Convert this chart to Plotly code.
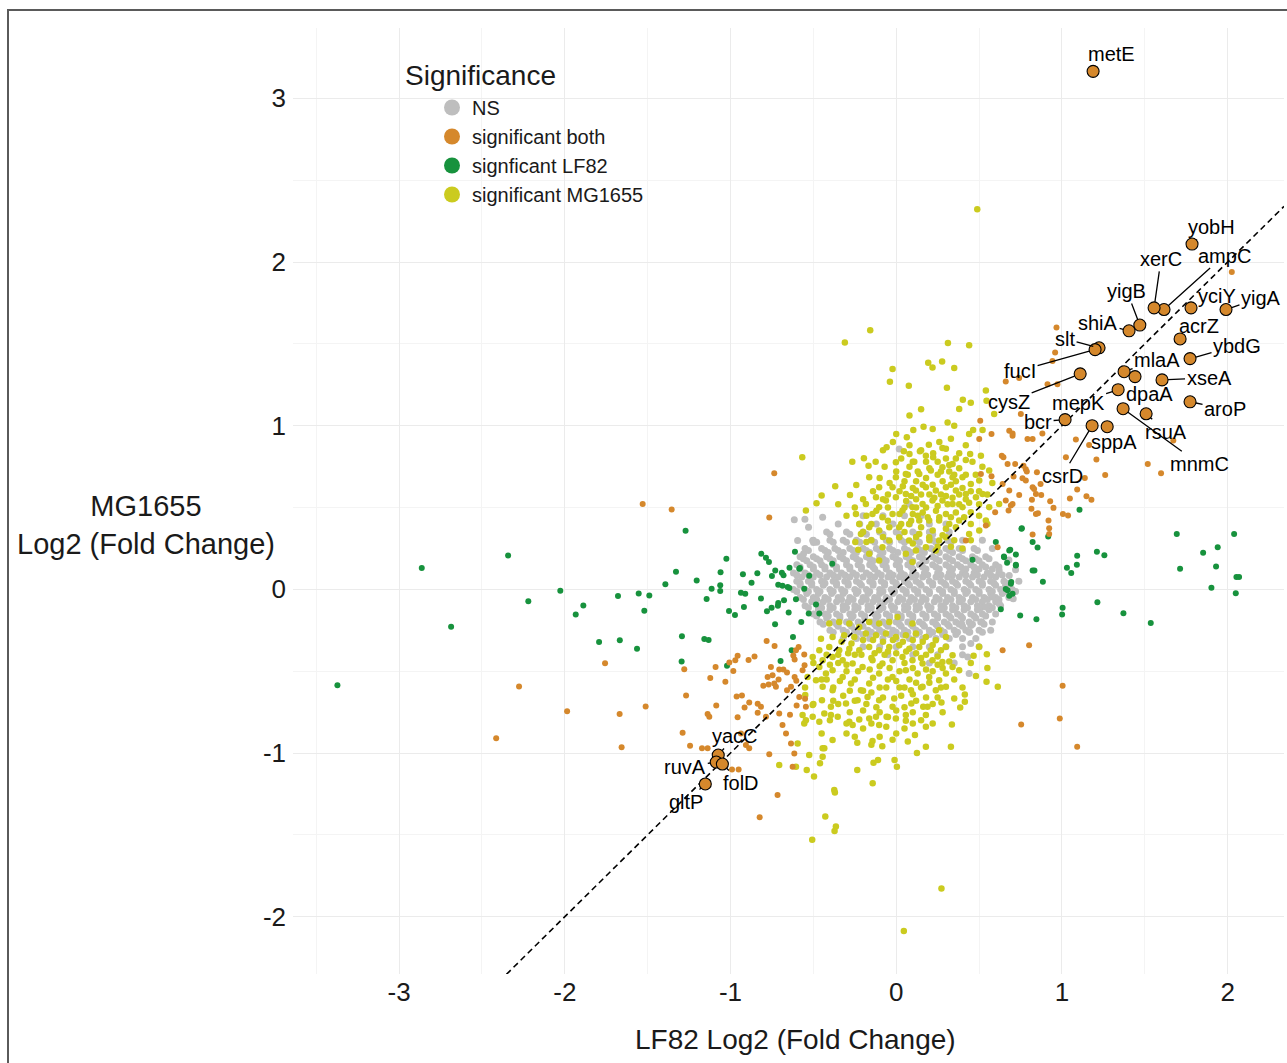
import plotly.graph_objects as go

FONT = "Liberation Sans, Arial, Helvetica, sans-serif"
C_NS = "#BEBEBE"
C_BOTH = "#D5882C"
C_LF = "#17923D"
C_MG = "#CBCB1F"

legend_names = ["NS", "significant both", "signficant LF82", "significant MG1655"]
x_tick_vals = [-3, -2, -1, 0, 1, 2]
x_tick_text = ["-3", "-2", "-1", "0", "1", "2"]
y_tick_vals = [-2, -1, 0, 1, 2, 3]
y_tick_text = ["-2", "-1", "0", "1", "2", "3"]

# ---------------- data (log2 fold changes) ----------------
# NS cloud, estimated row by row: (MG1655 value, [LF82 values])
ns_rows = [
    (0.45, [-0.2, -0.08, 0.05, 0.15]),
    (0.40, [-0.35, -0.22, -0.12, -0.02, 0.08, 0.2, 0.3]),
    (0.35, [-0.42, -0.3, -0.2, -0.1, 0.0, 0.1, 0.2, 0.32]),
    (0.3375, [-0.4, -0.28, -0.18, -0.08, 0.02, 0.12, 0.22]),
    (0.30, [-0.5, -0.4, -0.32, -0.24, -0.15, -0.06, 0.03, 0.12, 0.22, 0.31, 0.4]),
    (0.2875, [-0.48, -0.38, -0.3, -0.22, -0.13, -0.04, 0.05, 0.14, 0.24, 0.33]),
    (0.25, [-0.55, -0.45, -0.37, -0.28, -0.2, -0.12, -0.04, 0.05, 0.13, 0.21, 0.3, 0.38, 0.47]),
    (0.2375, [-0.53, -0.43, -0.35, -0.26, -0.18, -0.1, -0.02, 0.07, 0.15, 0.23, 0.32, 0.4, 0.49]),
    (0.225, [-0.41, -0.32, -0.24, -0.16, -0.08, 0.01, 0.09, 0.17, 0.26, 0.34]),
    (0.20, [-0.58, -0.5, -0.42, -0.34, -0.26, -0.18, -0.1, -0.02, 0.06, 0.14, 0.22, 0.3, 0.38, 0.46, 0.54]),
    (0.1875, [-0.56, -0.48, -0.4, -0.32, -0.24, -0.16, -0.08, 0.0, 0.08, 0.16, 0.24, 0.32, 0.4, 0.48, 0.56]),
    (0.175, [-0.54, -0.46, -0.38, -0.3, -0.22, -0.14, -0.06, 0.02, 0.1, 0.18, 0.26, 0.34, 0.42, 0.5]),
    (0.15, [-0.6, -0.52, -0.45, -0.38, -0.3, -0.23, -0.16, -0.08, 0.0, 0.07, 0.14, 0.22, 0.3, 0.37, 0.45, 0.52, 0.6]),
    (0.1375, [-0.58, -0.5, -0.43, -0.36, -0.28, -0.21, -0.14, -0.06, 0.02, 0.09, 0.16, 0.24, 0.32, 0.39, 0.47, 0.54, 0.62]),
    (0.125, [-0.58, -0.5, -0.43, -0.36, -0.28, -0.21, -0.13, -0.06, 0.02, 0.1, 0.18, 0.26, 0.34, 0.42, 0.5, 0.58]),
    (0.10, [-0.62, -0.55, -0.48, -0.4, -0.33, -0.26, -0.18, -0.11, -0.04, 0.03, 0.1, 0.17, 0.25, 0.32, 0.4, 0.47, 0.55, 0.62]),
    (0.0875, [-0.6, -0.53, -0.46, -0.38, -0.31, -0.24, -0.16, -0.09, -0.02, 0.05, 0.12, 0.19, 0.27, 0.34, 0.42, 0.49, 0.57, 0.64]),
    (0.075, [-0.57, -0.5, -0.42, -0.35, -0.28, -0.2, -0.13, -0.05, 0.02, 0.09, 0.16, 0.24, 0.31, 0.38, 0.46, 0.53, 0.6]),
    (0.05, [-0.6, -0.53, -0.45, -0.38, -0.31, -0.24, -0.16, -0.09, -0.02, 0.05, 0.12, 0.2, 0.27, 0.34, 0.42, 0.5, 0.57, 0.65]),
    (0.0375, [-0.58, -0.51, -0.43, -0.36, -0.29, -0.22, -0.14, -0.07, 0.0, 0.07, 0.14, 0.22, 0.29, 0.36, 0.44, 0.52, 0.59, 0.67]),
    (0.025, [-0.58, -0.51, -0.44, -0.36, -0.29, -0.21, -0.14, -0.07, 0.0, 0.08, 0.15, 0.22, 0.3, 0.37, 0.45, 0.52, 0.6, 0.66]),
    (0.0, [-0.62, -0.55, -0.48, -0.4, -0.33, -0.25, -0.18, -0.1, -0.03, 0.04, 0.11, 0.18, 0.26, 0.33, 0.41, 0.48, 0.56, 0.63, 0.7]),
    (-0.0125, [-0.6, -0.53, -0.46, -0.38, -0.31, -0.23, -0.16, -0.08, -0.01, 0.06, 0.13, 0.2, 0.28, 0.35, 0.43, 0.5, 0.58, 0.65, 0.72]),
    (-0.025, [-0.54, -0.47, -0.39, -0.32, -0.24, -0.17, -0.1, -0.02, 0.06, 0.13, 0.2, 0.28, 0.35, 0.42, 0.5, 0.57, 0.64]),
    (-0.05, [-0.58, -0.5, -0.43, -0.35, -0.28, -0.2, -0.13, -0.06, 0.02, 0.09, 0.16, 0.24, 0.31, 0.38, 0.46, 0.53, 0.6, 0.68]),
    (-0.0625, [-0.56, -0.48, -0.41, -0.33, -0.26, -0.18, -0.11, -0.04, 0.04, 0.11, 0.18, 0.26, 0.33, 0.4, 0.48, 0.55, 0.62]),
    (-0.075, [-0.51, -0.44, -0.36, -0.29, -0.21, -0.14, -0.07, 0.01, 0.08, 0.15, 0.23, 0.3, 0.38, 0.45, 0.52, 0.6]),
    (-0.10, [-0.55, -0.47, -0.4, -0.32, -0.25, -0.17, -0.1, -0.03, 0.05, 0.12, 0.19, 0.27, 0.34, 0.41, 0.49, 0.56, 0.63]),
    (-0.1125, [-0.53, -0.45, -0.38, -0.3, -0.23, -0.15, -0.08, -0.01, 0.07, 0.14, 0.21, 0.29, 0.36, 0.43, 0.51, 0.58]),
    (-0.125, [-0.47, -0.4, -0.32, -0.25, -0.17, -0.1, -0.02, 0.05, 0.12, 0.2, 0.27, 0.34, 0.41, 0.49, 0.56]),
    (-0.15, [-0.5, -0.43, -0.36, -0.28, -0.21, -0.13, -0.06, 0.01, 0.08, 0.16, 0.23, 0.3, 0.37, 0.45, 0.52, 0.6]),
    (-0.1625, [-0.48, -0.41, -0.34, -0.26, -0.19, -0.11, -0.04, 0.03, 0.1, 0.18, 0.25, 0.32, 0.39, 0.47, 0.54]),
    (-0.175, [-0.42, -0.34, -0.27, -0.19, -0.12, -0.04, 0.03, 0.1, 0.18, 0.25, 0.33, 0.4, 0.48]),
    (-0.20, [-0.46, -0.38, -0.3, -0.23, -0.15, -0.08, 0.0, 0.07, 0.14, 0.22, 0.29, 0.36, 0.44, 0.51, 0.58]),
    (-0.2125, [-0.44, -0.36, -0.28, -0.21, -0.13, -0.06, 0.02, 0.09, 0.16, 0.24, 0.31, 0.38, 0.46, 0.53]),
    (-0.225, [-0.35, -0.27, -0.2, -0.12, -0.05, 0.03, 0.1, 0.17, 0.25, 0.32, 0.4]),
    (-0.25, [-0.4, -0.32, -0.25, -0.17, -0.1, -0.02, 0.05, 0.12, 0.2, 0.27, 0.35, 0.42, 0.5, 0.57]),
    (-0.2625, [-0.38, -0.3, -0.23, -0.15, -0.08, 0.0, 0.07, 0.14, 0.22, 0.29, 0.37, 0.44, 0.52]),
    (-0.275, [-0.2, -0.12, -0.04, 0.04, 0.12, 0.2, 0.28, 0.36]),
    (-0.30, [-0.32, -0.24, -0.16, -0.08, 0.0, 0.08, 0.16, 0.24, 0.32, 0.4, 0.48]),
    (-0.35, [-0.2, -0.1, 0.0, 0.1, 0.2, 0.3, 0.4, 0.5]),
    (-0.40, [-0.05, 0.1, 0.25, 0.4]),
    (-0.45, [0.2, 0.35]),
]
ns_extra = [
    (-0.615, 0.425), (-0.529, 0.38), (-0.444, 0.441), (-0.504, 0.299), (-0.595, 0.299), (0.018, 0.858),
    (0.078, 0.522), (-0.551, 0.429), (-0.499, 0.287), (-0.559, 0.218), (0.394, -0.209), (0.45, -0.22),
    (0.444, -0.26), (0.517, -0.199), (0.45, -0.331), (0.432, -0.413), (0.44, -0.514), (0.621, 0.116),
    (0.682, 0.085), (0.706, -0.057), (0.645, -0.016), (0.581, -0.047), (0.541, -0.108), (0.621, -0.087),
    (0.74, 0.05), (0.72, 0.12), (0.68, 0.18), (0.58, 0.25), (0.52, 0.3),
]

both_points = [
    (-1.53, 0.522), (-1.757, -0.451), (-2.276, -0.593), (-1.986, -0.744), (-1.669, -0.762), (-1.512, -0.715),
    (-2.414, -0.91), (-1.657, -0.965), (-0.736, 0.709), (-0.766, 0.439), (-1.355, 0.488), (-1.279, -0.488),
    (-1.268, -0.648), (-1.122, -0.541), (-1.09, -0.474), (-1.086, -0.709), (-1.138, -0.762), (-1.031, -0.565),
    (-0.983, -0.498), (-1.007, -0.447), (-0.971, -0.433), (-0.957, -0.406), (-0.891, -0.431), (-0.855, -0.41),
    (-0.963, -0.654), (-0.931, -0.648), (-0.887, -0.691), (-0.915, -0.722), (-0.836, -0.699), (-0.782, -0.315),
    (-0.734, -0.346), (-0.756, -0.474), (-0.746, -0.524), (-0.776, -0.535), (-0.706, -0.49), (-0.681, -0.49),
    (-0.659, -0.508), (-0.71, -0.551), (-0.736, -0.575), (-0.802, -0.589), (-0.77, -0.581), (-0.726, -0.595),
    (-0.659, -0.616), (-0.613, -0.535), (-0.603, -0.559), (-0.635, -0.595), (-0.605, -0.372), (-0.589, -0.352),
    (-0.621, -0.404), (-0.613, -0.429), (-0.555, -0.398), (-0.553, -0.463), (-0.565, -0.494), (-0.585, -0.657),
    (-0.601, -0.71), (-0.641, -0.766), (-0.55, -0.669), (-0.836, -0.754), (-0.957, -0.782), (-0.786, -0.778),
    (-0.716, -1.256), (-0.824, -1.392), (-1.128, -0.778), (-1.289, -0.876), (-1.244, -0.955), (-1.172, -0.971),
    (-1.138, -0.971), (-0.991, -1.1), (-0.951, -1.1), (-0.907, -0.951), (-0.887, -0.971), (-0.766, -1.008),
    (-0.937, -0.88), (-0.706, -0.758), (-0.686, -0.829), (-0.665, -0.88), (-0.635, -0.941), (-0.615, -1.002),
    (-0.625, -1.083), (-0.545, -0.717), (-0.816, -0.717),
    (0.661, 1.27), (0.742, 1.291), (0.752, 1.071), (0.507, 1.03), (0.575, 0.949), (0.501, 0.919), (0.682, 0.969),
    (0.702, 0.939), (0.792, 0.919), (0.823, 0.919), (0.637, 0.817), (0.672, 0.766), (0.718, 0.766), (0.782, 0.734),
    (0.511, 0.705), (0.575, 0.691), (0.642, 0.644), (0.682, 0.604), (0.782, 0.665), (0.823, 0.624), (0.661, 0.543),
    (0.702, 0.522), (0.597, 0.472), (0.541, 0.39), (0.843, 0.461), (0.42, 0.299), (0.612, 0.258), (0.843, 0.583),
    (1.672, 0.909), (1.518, 0.766), (1.598, 0.71), (1.261, 0.699), (1.208, 0.793), (1.164, 0.882), (1.084, 0.915),
    (1.138, 0.681), (1.092, 0.61), (1.048, 0.555), (1.148, 0.569), (1.178, 0.547), (1.006, 0.461), (1.037, 0.451),
    (0.919, 0.421), (0.923, 0.374), (0.923, 0.339), (0.823, 0.335), (0.855, 0.465), (0.816, 0.492), (0.949, 0.498),
    (0.875, 0.577), (0.819, 0.547), (0.832, 0.614), (0.871, 0.644), (0.929, 0.539), (0.742, 0.577), (0.692, 0.512),
    (0.678, 0.482), (0.762, 0.679), (0.708, 0.689), (0.788, 0.72), (0.849, 0.715), (0.768, 0.756), (0.647, 0.807),
    (0.882, 0.953), (0.702, 0.953), (0.642, -0.372), (0.802, -0.341), (1.004, -0.589), (0.987, -0.789),
    (0.754, -0.825), (1.092, -0.961), (2.025, 1.939), (0.967, 1.6), (0.959, 1.447), (0.943, 1.396),
    (0.913, 1.254), (0.973, 1.254), (1.024, 0.807),
]

lf82_points = [
    (-2.863, 0.13), (-2.342, 0.207), (-2.686, -0.228), (-2.027, -0.008), (-2.22, -0.073), (-3.372, -0.585),
    (-1.679, -0.04), (-1.554, -0.025), (-1.49, -0.037), (-1.888, -0.098), (-1.934, -0.154), (-1.52, -0.13),
    (-1.793, -0.321), (-1.668, -0.311), (-1.564, -0.362), (-1.271, 0.358), (-1.329, 0.108), (-1.393, 0.032),
    (-1.204, 0.055), (-1.025, 0.187), (-1.06, 0.104), (-1.062, 0.026), (-1.062, -0.01), (-1.114, 0.004),
    (-1.144, -0.059), (-0.925, 0.093), (-0.838, 0.098), (-0.873, 0.041), (-0.937, -0.02), (-0.911, -0.026),
    (-0.814, 0.218), (-0.786, 0.193), (-0.768, 0.167), (-0.73, 0.116), (-0.69, 0.102), (-0.68, 0.087),
    (-0.644, 0.132), (-0.581, 0.13), (-0.611, 0.23), (-0.75, 0.081), (-0.712, 0.028), (-0.686, 0.022),
    (-0.645, 0.008), (-0.525, 0.083), (-0.816, -0.055), (-0.677, -0.067), (-0.712, -0.083), (-0.714, -0.1),
    (-0.752, -0.112), (-0.78, -0.134), (-0.605, -0.061), (-0.649, -0.142), (-1.009, -0.132), (-0.973, -0.156),
    (-0.919, -0.108), (-0.573, -0.199), (-0.731, -0.213), (-0.528, -0.148), (-0.484, -0.093), (-0.464, -0.148),
    (-1.293, -0.287), (-1.158, -0.303), (-1.132, -0.309), (-1.295, -0.441), (-1.021, -0.467), (-0.623, -0.291),
    (-0.631, -0.372), (-0.698, -0.437), (-0.386, 0.157), (0.756, 0.37), (0.601, 0.289), (0.682, 0.238),
    (0.651, 0.197), (0.722, 0.146), (0.46, 0.181), (0.834, 0.116), (0.692, 0.035), (0.672, -0.006),
    (-0.585, 0.126), (-0.555, 0.004), (-0.655, 0.014), (1.693, 0.339), (2.039, 0.339), (1.94, 0.258),
    (1.852, 0.224), (1.713, 0.126), (1.93, 0.14), (1.902, 0.01), (2.053, 0.075), (2.069, 0.075), (2.049, -0.024),
    (1.536, -0.205), (1.371, -0.146), (1.214, -0.079), (1.092, 0.205), (1.211, 0.23), (1.256, 0.209),
    (1.09, 0.15), (1.03, 0.132), (1.056, 0.1), (1.106, 0.486), (1.004, -0.112), (1.001, -0.154), (0.846, -0.183),
    (0.748, -0.159), (0.631, -0.122), (0.885, 0.047), (0.823, 0.116), (0.853, 0.256), (0.823, 0.289),
    (0.917, 0.323), (0.758, 0.374), (0.688, 0.242), (0.722, 0.213), (0.65, 0.201), (0.722, 0.15), (0.669, 0.163),
    (0.694, 0.045), (0.682, -0.039), (0.702, -0.026), (0.661, 0.002),
]

mg1655_points = [
    (0.489, 2.323), (-0.157, 1.583), (-0.31, 1.508), (0.312, 1.506), (0.44, 1.492), (-0.022, 1.346), (-0.038, 1.268),
    (0.193, 1.384), (0.219, 1.356), (0.277, 1.392), (0.35, 1.352), (0.076, 1.244), (0.306, 1.232), (0.402, 1.159),
    (0.45, 1.14), (0.541, 1.215), (0.38, 1.102), (0.08, 1.063), (0.31, 1.02), (0.165, 0.994), (0.103, 0.974),
    (0.064, 0.929), (0.33, 0.921), (0.464, 0.974), (0.521, 0.974), (0.545, 1.152), (0.591, 1.071), (-0.567, 0.807),
    (-0.058, 0.868), (-0.195, 0.801), (-0.265, 0.78), (-0.167, 0.756), (-0.124, 0.78), (-0.002, 0.776),
    (0.046, 0.844), (0.08, 0.827), (0.109, 0.78), (0.143, 0.844), (0.197, 0.884), (0.223, 0.832), (0.223, 0.807),
    (0.279, 0.864), (0.179, 0.817), (0.38, 0.832), (0.42, 0.791), (0.446, 0.827), (0.511, 0.817), (0.34, 0.766),
    (-0.368, 0.63), (-0.45, 0.573), (-0.481, 0.526), (-0.545, 0.482), (-0.241, 0.638), (-0.279, 0.577),
    (-0.163, 0.685), (-0.103, 0.624), (-0.243, 0.461), (-0.223, 0.4), (-0.213, 0.339), (-0.247, 0.289),
    (-0.229, 0.242), (-0.163, 0.38), (-0.103, 0.502), (-0.062, 0.543), (-0.022, 0.624), (-0.002, 0.685),
    (0.058, 0.705), (0.139, 0.705), (0.209, 0.726), (0.279, 0.746), (0.34, 0.685), (0.4, 0.685), (0.45, 0.644),
    (0.501, 0.665), (0.561, 0.726), (0.521, 0.583), (0.481, 0.563), (0.42, 0.583), (0.36, 0.604), (0.3, 0.624),
    (0.239, 0.604), (0.179, 0.624), (0.119, 0.604), (0.058, 0.583), (-0.002, 0.563), (-0.122, 0.563),
    (-0.183, 0.522), (-0.143, 0.461), (-0.083, 0.441), (-0.022, 0.461), (0.038, 0.482), (0.098, 0.502),
    (0.159, 0.522), (0.219, 0.543), (0.279, 0.543), (0.34, 0.522), (0.4, 0.502), (0.45, 0.471), (0.38, 0.421),
    (0.32, 0.4), (0.259, 0.421), (0.199, 0.421), (0.139, 0.421), (0.078, 0.4), (0.018, 0.38), (-0.042, 0.38),
    (-0.103, 0.36), (-0.042, 0.299), (0.018, 0.319), (0.078, 0.299), (0.139, 0.339), (0.199, 0.319),
    (0.259, 0.299), (0.3, 0.319), (0.239, 0.238), (0.179, 0.258), (0.119, 0.238), (0.058, 0.218), (0.098, 0.167),
    (-0.103, 0.177), (-0.163, 0.218), (-0.083, 0.258), (0.44, 0.339), (0.501, 0.36), (0.541, 0.421),
    (0.561, 0.502), (0.621, 0.522),
    (0.0, 0.72), (0.05, 0.66), (0.12, 0.66), (0.18, 0.68), (0.25, 0.7), (0.32, 0.72), (0.38, 0.74), (0.02, 0.46),
    (0.1, 0.46), (0.16, 0.47), (0.24, 0.48), (0.3, 0.46), (0.36, 0.47), (0.06, 0.54), (0.2, 0.58), (0.27, 0.58),
    (0.34, 0.56), (0.42, 0.55), (0.15, 0.38), (0.22, 0.36), (0.3, 0.37), (0.36, 0.38), (0.45, 0.4), (0.05, 0.35),
    (-0.05, 0.42), (-0.15, 0.4), (-0.18, 0.29), (0.25, 0.26), (0.35, 0.3), (0.4, 0.25), (0.1, 0.28), (0.45, 0.6),
    (0.48, 0.7), (0.08, 0.75), (0.18, 0.78), (0.3, 0.8), (0.42, 0.88), (-0.05, 0.58), (-0.1, 0.68), (0.12, 0.55),
    (0.36, 0.66), (0.5, 0.52), (0.55, 0.58), (0.26, 0.9), (0.35, 1.0), (0.0, 0.95), (-0.08, 0.85), (0.22, 0.98),
    (0.15, 1.1), (0.44, 0.95), (-0.3, 0.45), (-0.35, 0.52),
    (0.03, 0.4), (0.09, 0.42), (0.13, 0.45), (0.19, 0.44), (0.26, 0.44), (0.33, 0.44), (0.41, 0.44), (0.05, 0.5),
    (0.12, 0.5), (0.18, 0.5), (0.25, 0.51), (0.31, 0.52), (0.38, 0.52), (0.44, 0.53), (0.02, 0.6), (0.09, 0.57),
    (0.15, 0.58), (0.23, 0.56), (0.3, 0.57), (0.38, 0.58), (0.04, 0.63), (0.1, 0.62), (0.16, 0.64), (0.22, 0.64),
    (0.28, 0.66), (0.33, 0.64), (0.4, 0.62), (0.07, 0.7), (0.13, 0.72), (0.2, 0.74), (0.27, 0.72), (0.35, 0.7),
    (0.42, 0.7), (0.1, 0.78), (0.25, 0.78), (0.32, 0.76), (0.15, 0.85), (0.3, 0.86), (0.36, 0.8), (-0.05, 0.5),
    (-0.08, 0.55), (-0.14, 0.6), (-0.2, 0.55), (-0.25, 0.5), (-0.12, 0.48), (-0.18, 0.45), (-0.2, 0.35),
    (-0.15, 0.3), (-0.08, 0.32), (0.12, 0.32), (0.2, 0.3), (0.28, 0.33), (0.33, 0.26), (0.45, 0.3), (0.5, 0.45),
    (0.55, 0.4), (0.5, 0.6), (0.58, 0.65), (0.52, 0.75), (0.46, 0.78), (-0.04, 0.65), (-0.07, 0.75), (0.03, 0.8),
    (0.08, 0.88), (-0.02, 0.9),
    (-0.235, -1.104), (-0.137, -1.059), (-0.11, -1.043), (0.004, -1.083), (-0.01, -1.043), (0.125, -1.0),
    (0.179, -0.961), (0.33, -0.961), (0.336, -0.825), (0.113, -0.89), (0.179, -0.84), (-0.022, -0.919),
    (-0.084, -0.959), (-0.143, -0.927), (-0.235, -0.937), (-0.384, -0.921), (-0.434, -0.971), (-0.444, -1.022),
    (-0.46, -1.063), (-0.54, -1.104), (-0.496, -1.144), (-0.706, -1.073), (0.545, -0.565), (0.613, -0.595),
    (0.481, -0.53), (0.547, -0.396), (0.467, -0.406), (0.414, -0.642), (0.414, -0.687), (0.386, -0.722),
    (0.35, -0.667), (0.273, -0.691), (0.189, -0.717), (0.163, -0.717), (0.091, -0.697), (0.179, -0.768),
    (0.058, -0.768), (0.058, -0.803), (-0.002, -0.789), (-0.058, -0.778), (-0.103, -0.829), (-0.122, -0.778),
    (-0.163, -0.789), (-0.223, -0.795), (-0.283, -0.809), (-0.263, -0.829), (-0.353, -0.778), (-0.394, -0.768),
    (-0.504, -0.778), (-0.555, -0.819), (-0.448, -0.677), (-0.504, -0.707), (-0.549, -0.646), (-0.444, -0.595),
    (-0.384, -0.616), (-0.303, -0.697), (-0.233, -0.677), (-0.173, -0.657), (-0.103, -0.677), (-0.022, -0.717),
    (-0.012, -0.667), (0.089, -0.616), (0.159, -0.595), (0.239, -0.616), (0.3, -0.595), (0.259, -0.555),
    (0.199, -0.535), (0.129, -0.514), (0.058, -0.494), (-0.022, -0.535), (-0.103, -0.514), (-0.163, -0.575),
    (-0.213, -0.616), (-0.273, -0.575), (-0.323, -0.535), (-0.384, -0.494), (-0.424, -0.514), (-0.464, -0.474),
    (-0.504, -0.413), (-0.535, -0.535), (-0.484, -0.555), (-0.444, -0.433), (-0.384, -0.413), (-0.323, -0.433),
    (-0.263, -0.453), (-0.203, -0.474), (-0.143, -0.433), (-0.083, -0.453), (-0.022, -0.433), (0.038, -0.413),
    (0.098, -0.433), (0.159, -0.453), (0.219, -0.433), (0.279, -0.443), (0.34, -0.474), (0.38, -0.494),
    (0.3, -0.514), (0.27, -0.372), (0.209, -0.372), (0.139, -0.352), (0.079, -0.362), (0.018, -0.341),
    (-0.042, -0.352), (-0.103, -0.372), (-0.163, -0.352), (-0.223, -0.372), (-0.283, -0.362), (-0.344, -0.372),
    (-0.404, -0.352), (-0.464, -0.372), (-0.454, -0.301), (-0.384, -0.291), (-0.314, -0.28), (-0.253, -0.291),
    (-0.183, -0.27), (-0.122, -0.28), (-0.062, -0.27), (-0.002, -0.291), (0.058, -0.28), (0.119, -0.27),
    (0.179, -0.291), (0.239, -0.311), (0.3, -0.291), (0.34, -0.402), (-0.404, -0.209), (-0.344, -0.199),
    (-0.283, -0.209), (-0.223, -0.23), (-0.163, -0.199), (-0.103, -0.209), (-0.042, -0.199), (0.008, -0.169),
    (0.098, -0.209), (0.259, -0.25),
    (-0.394, -0.717), (-0.434, -0.758), (-0.565, -0.768), (-0.545, -0.799), (-0.464, -0.809), (-0.595, -0.941),
    (-0.525, -1.012), (-0.444, -0.971), (-0.374, -1.226), (-0.428, -1.388), (-0.364, -1.449), (-0.605, -1.083),
    (-0.142, -1.185), (-0.37, -1.241), (-0.372, -1.476), (-0.507, -1.53), (0.273, -1.827), (0.046, -2.087),
    (-0.3, -0.5), (-0.25, -0.55), (-0.2, -0.62), (-0.1, -0.6), (-0.05, -0.55), (0.02, -0.6), (0.08, -0.55),
    (0.15, -0.6), (0.22, -0.5), (0.28, -0.48), (0.35, -0.55), (0.4, -0.6), (-0.38, -0.6), (-0.35, -0.7),
    (-0.28, -0.75), (-0.18, -0.7), (-0.12, -0.72), (-0.05, -0.78), (0.05, -0.72), (0.12, -0.68), (0.22, -0.7),
    (0.28, -0.75), (0.1, -0.82), (-0.2, -0.85), (-0.3, -0.88), (-0.15, -0.95), (0.0, -0.88), (0.3, -0.35),
    (0.15, -0.42), (0.05, -0.45), (-0.05, -0.38), (-0.15, -0.42), (-0.25, -0.4), (-0.35, -0.45), (-0.45, -0.55),
    (-0.5, -0.45), (-0.55, -0.6), (-0.5, -0.7), (-0.4, -0.8), (-0.45, -0.88), (0.45, -0.45), (0.5, -0.35),
    (0.55, -0.48),
    (-0.33, -0.32), (-0.27, -0.33), (-0.2, -0.31), (-0.14, -0.31), (-0.08, -0.32), (-0.02, -0.31), (0.04, -0.32),
    (0.1, -0.31), (0.16, -0.32), (0.22, -0.34), (-0.42, -0.4), (-0.35, -0.4), (-0.29, -0.39), (-0.21, -0.4),
    (-0.13, -0.39), (-0.07, -0.4), (0.0, -0.39), (0.06, -0.38), (0.12, -0.39), (0.18, -0.4), (0.25, -0.41),
    (0.32, -0.44), (-0.4, -0.46), (-0.3, -0.46), (-0.23, -0.5), (-0.16, -0.49), (-0.1, -0.47), (-0.04, -0.48),
    (0.02, -0.5), (0.1, -0.48), (0.18, -0.49), (0.25, -0.46), (-0.42, -0.55), (-0.34, -0.56), (-0.28, -0.62),
    (-0.14, -0.54), (-0.06, -0.6), (0.0, -0.56), (0.05, -0.6), (0.12, -0.57), (0.2, -0.57), (0.27, -0.6),
    (-0.32, -0.65), (-0.25, -0.68), (-0.15, -0.63), (-0.08, -0.66), (0.03, -0.65), (0.1, -0.64), (0.18, -0.66),
    (0.25, -0.66), (-0.38, -0.68), (-0.2, -0.74), (-0.1, -0.75), (0.0, -0.74), (0.1, -0.75), (0.15, -0.8),
    (-0.3, -0.82), (-0.15, -0.82), (-0.06, -0.84), (0.05, -0.85), (0.22, -0.82), (-0.25, -0.9), (-0.1, -0.9),
    (0.07, -0.93),
]

# labelled genes (all "significant both")
gene_names = ["metE", "yobH", "ampC", "xerC", "yciY", "yigA", "yigB", "shiA", "slt", "fucI", "cysZ",
              "acrZ", "ybdG", "mlaA", "dpaA", "xseA", "mepK", "aroP", "bcr", "mnmC", "rsuA", "csrD",
              "sppA", "yacC", "ruvA", "folD", "gltP"]
gene_lf82 = [1.188, 1.785, 1.616, 1.556, 1.779, 1.99, 1.47, 1.405, 1.224, 1.2, 1.11,
             1.713, 1.773, 1.375, 1.441, 1.604, 1.339, 1.773, 1.019, 1.369, 1.508, 1.182,
             1.273, -1.074, -1.086, -1.049, -1.152]
gene_mg1655 = [3.165, 2.11, 1.71, 1.72, 1.72, 1.71, 1.615, 1.58, 1.476, 1.465, 1.317,
               1.53, 1.41, 1.33, 1.30, 1.28, 1.22, 1.146, 1.037, 1.104, 1.073, 1.0,
               0.994, -1.012, -1.055, -1.067, -1.189]

# label placement (pixel offsets from the point, repel-style)
label_offsets = {
    "metE": (18, -17), "yobH": (19, -17), "ampC": (60, -54), "xerC": (7, -49), "yciY": (26, -12),
    "yigA": (35, -12), "yigB": (-13, -34), "shiA": (-31, -8), "slt": (-34, -9), "fucI": (-75, 21),
    "cysZ": (-71, 28), "acrZ": (19, -13), "ybdG": (47, -13), "mlaA": (33, -12), "dpaA": (14, 17),
    "xseA": (47, -2), "mepK": (-40, 13), "aroP": (35, 7), "bcr": (-27, 2), "mnmC": (76, 55),
    "rsuA": (20, 18), "csrD": (-30, 50), "sppA": (7, 15), "yacC": (17, -19), "ruvA": (-31, 5),
    "folD": (19, 19), "gltP": (-19, 18),
}

X_RANGE = [-3.64, 2.34]
Y_RANGE = [-2.35, 3.43]

# ---------------- build ----------------
ns_x, ns_y = [], []
for yv, xs in ns_rows:
    for xv in xs:
        ns_x.append(xv)
        ns_y.append(yv)
for xv, yv in ns_extra:
    ns_x.append(xv)
    ns_y.append(yv)


def split(pts):
    return [p[0] for p in pts], [p[1] for p in pts]


fig = go.Figure()
groups = [
    (legend_names[0], (ns_x, ns_y), C_NS, 7),
    (legend_names[3], split(mg1655_points), C_MG, 6.5),
    (legend_names[2], split(lf82_points), C_LF, 6),
    (legend_names[1], split(both_points), C_BOTH, 6),
]
for name, (gx, gy), col, sz in groups:
    fig.add_trace(go.Scatter(x=gx, y=gy, mode="markers", name=name, showlegend=False,
                             marker=dict(size=sz, color=col, line=dict(width=0)),
                             hoverinfo="skip"))

# identity line
fig.add_trace(go.Scatter(x=X_RANGE, y=X_RANGE, mode="lines", showlegend=False,
                         line=dict(color="black", width=1.6, dash="6px,4px"), hoverinfo="skip"))

# labelled genes
fig.add_trace(go.Scatter(x=gene_lf82, y=gene_mg1655, mode="markers", showlegend=False,
                         marker=dict(size=12, color=C_BOTH, line=dict(color="black", width=1.1)),
                         text=gene_names, hoverinfo="text"))

# legend entries
legend_cols = {legend_names[0]: C_NS, legend_names[1]: C_BOTH, legend_names[2]: C_LF, legend_names[3]: C_MG}
for name in legend_names:
    fig.add_trace(go.Scatter(x=[None], y=[None], mode="markers", name=name,
                             marker=dict(size=16, color=legend_cols[name])))

for g, gx, gy in zip(gene_names, gene_lf82, gene_mg1655):
    dx, dy = label_offsets[g]
    fig.add_annotation(x=gx, y=gy, text=g, showarrow=True, arrowhead=0, arrowwidth=1.3,
                       arrowcolor="black", ax=dx, ay=dy, standoff=6,
                       font=dict(family=FONT, size=20, color="black"))

L, R, T, B = 293, 3, 28, 89
W, H = 1287, 1063
pw, ph = W - L - R, H - T - B


def px(xp):
    return (xp - L) / pw


def py(yp):
    return (H - B - yp) / ph


fig.add_annotation(xref="paper", yref="paper", x=px(146), y=py(525), text="MG1655<br>Log2 (Fold Change)",
                   showarrow=False, xanchor="center", yanchor="middle",
                   font=dict(family=FONT, size=29, color="#1a1a1a"))
fig.add_annotation(xref="paper", yref="paper", x=px(795), y=py(1039), text="LF82 Log2 (Fold Change)",
                   showarrow=False, xanchor="center", yanchor="middle",
                   font=dict(family=FONT, size=28, color="#1a1a1a"))
fig.add_annotation(xref="paper", yref="paper", x=px(403), y=py(75), text="Significance",
                   showarrow=False, xanchor="left", yanchor="middle",
                   font=dict(family=FONT, size=28, color="#1a1a1a"))

# outer frame (left and top edges visible)
fig.add_shape(type="path", xref="paper", yref="paper",
              path=f"M {px(1400)} {py(10)} L {px(8)} {py(10)} L {px(8)} {py(1100)}",
              line=dict(color="#5a5a5a", width=2))

axis_common = dict(showgrid=True, gridcolor="#EBEBEB", gridwidth=1.3, zeroline=False, showline=False,
                   ticks="", tickfont=dict(family=FONT, size=26, color="#1a1a1a"),
                   minor=dict(showgrid=True, gridcolor="#F4F4F4", gridwidth=0.9, dtick=0.5))
fig.update_xaxes(range=X_RANGE, tickmode="array", tickvals=x_tick_vals, ticktext=x_tick_text, **axis_common)
fig.update_yaxes(range=Y_RANGE, tickmode="array", tickvals=y_tick_vals, ticktext=y_tick_text,
                 ticklabelstandoff=6, **axis_common)

fig.update_layout(
    width=W, height=H, margin=dict(l=L, r=R, t=T, b=B),
    plot_bgcolor="white", paper_bgcolor="white",
    font=dict(family=FONT),
    showlegend=True,
    legend=dict(x=px(432), y=py(88), xanchor="left", yanchor="top", bgcolor="rgba(0,0,0,0)",
                font=dict(family=FONT, size=20, color="#1a1a1a"), itemsizing="trace",
                tracegroupgap=0),
)

fig.write_html("out.html")
